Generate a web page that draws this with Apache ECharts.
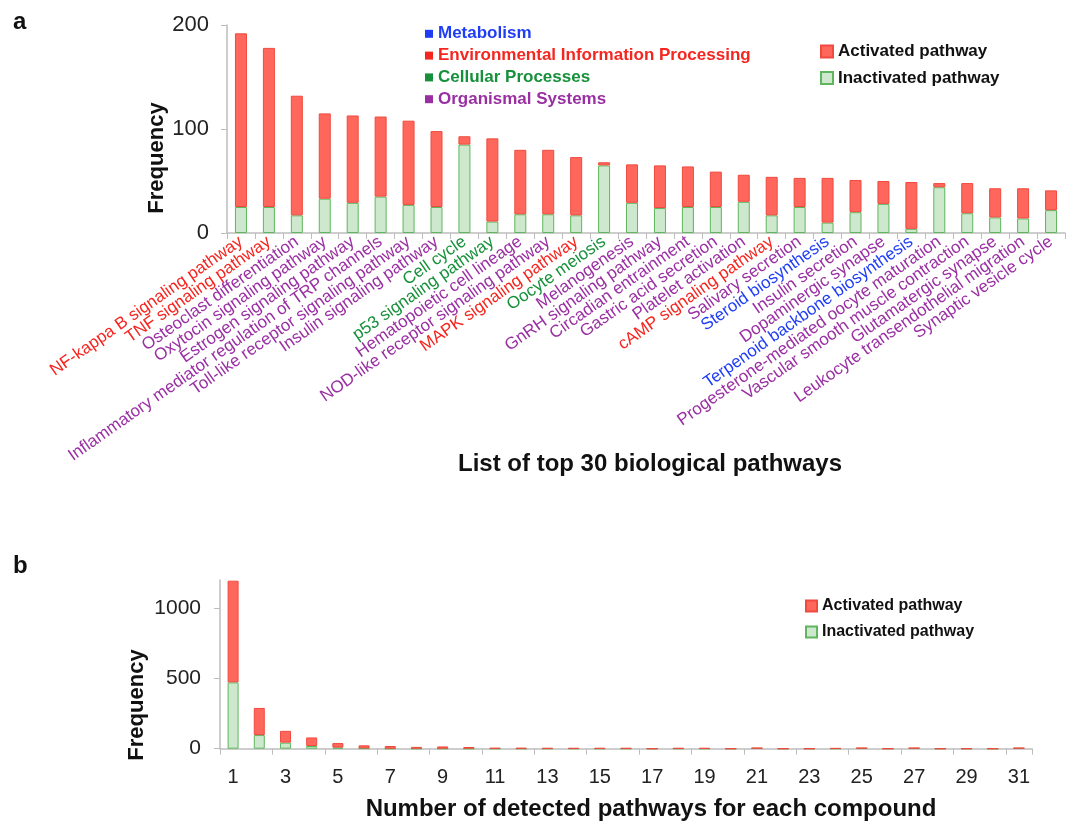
<!DOCTYPE html>
<html>
<head>
<meta charset="utf-8">
<script src="https://cdn.jsdelivr.net/npm/echarts@6/dist/echarts.min.js"></script>
<style>
  html, body { margin: 0; padding: 0; background: #fff; }
  #main { width: 1072px; height: 823px; }
</style>
</head>
<body>
<div id="main"></div>
<script>
// top 30 pathways (panel a)
var pathways = [
  'NF-kappa B signaling pathway', 'TNF signaling pathway', 'Osteoclast differentiation',
  'Oxytocin signaling pathway', 'Estrogen signaling pathway',
  'Inflammatory mediator regulation of TRP channels', 'Toll-like receptor signaling pathway',
  'Insulin signaling pathway', 'Cell cycle', 'p53 signaling pathway',
  'Hematopoietic cell lineage', 'NOD-like receptor signaling pathway', 'MAPK signaling pathway',
  'Oocyte meiosis', 'Melanogenesis', 'GnRH signaling pathway', 'Circadian entrainment',
  'Gastric acid secretion', 'Platelet activation', 'cAMP signaling pathway',
  'Salivary secretion', 'Steroid biosynthesis', 'Insulin secretion', 'Dopaminergic synapse',
  'Terpenoid backbone biosynthesis', 'Progesterone-mediated oocyte maturation',
  'Vascular smooth muscle contraction', 'Glutamatergic synapse',
  'Leukocyte transendothelial migration', 'Synaptic vesicle cycle'
];
// M = Metabolism, E = Environmental Information Processing, C = Cellular Processes, O = Organismal Systems
var pathwayGroup = ['E','E','O','O','O','O','O','O','C','C','O','O','E','C','O','O','O','O','O','E','O','M','O','O','M','O','O','O','O','O'];
var totalA    = [192,178,132,115,113,112,108,98,93,91,80,80,73,68,66,65,64,59,56,54,53,53,51,50,49,48,48,43,43,41];
var inactiveA = [25,25,17,33,29,35,27,25,85,11,18,18,17,65,29,24,25,25,30,17,25,10,20,28,4,44,19,15,14,22];

// panel b: number of detected pathways per compound
var counts    = ['1','2','3','4','5','6','7','8','9','10','11','12','13','14','15','16','17','18','19','20','21','22','23','24','25','26','27','28','29','30','31'];
var totalB    = [1195,290,127,80,40,24,19,13,16,12,6,6,5,5,5,5,0,5,5,0,4,0,0,4,4,0,4,0,0,0,4];
var inactiveB = [472,97,43,19,8,2,0,0,0,0,0,0,0,0,0,0,0,0,0,0,4,0,0,0,4,0,4,0,0,0,4];

var groupNames = ['Metabolism', 'Environmental Information Processing', 'Cellular Processes', 'Organismal Systems'];
var groupColor = { M: '#1f3df5', E: '#f5251f', C: '#16903a', O: '#9a2fa3' };

var activeA = totalA.map(function (t, i) { return t - inactiveA[i]; });
var activeB = totalB.map(function (t, i) { return t - inactiveB[i]; });

var FONT = 'Arial, "Liberation Sans", Helvetica, sans-serif';
var redStyle = { color: '#ff675c', borderColor: '#f04a3e', borderWidth: 1 };
var greenStyle = { color: '#cde8cd', borderColor: '#5fb65f', borderWidth: 1 };
var axisGray = '#bdbdbd';

var chart = echarts.init(document.getElementById('main'), null, { renderer: 'canvas' });

// group colour key, drawn as graphics
var groupGraphics = [];
['M', 'E', 'C', 'O'].forEach(function (g, i) {
  var y = 33.8 + i * 21.8;
  groupGraphics.push({ type: 'rect', x: 425, y: y - 4, shape: { width: 8, height: 8 }, style: { fill: groupColor[g] } });
  groupGraphics.push({ type: 'text', x: 438, y: y, style: { text: groupNames[i], fill: groupColor[g], font: 'bold 17px ' + FONT, verticalAlign: 'middle' } });
});

chart.setOption({
  animation: false,
  textStyle: { fontFamily: FONT },
  legend: [
    {
      data: ['Activated pathway', 'Inactivated pathway'], orient: 'vertical', left: 820, top: 43,
      padding: 0, icon: 'rect', itemWidth: 12, itemHeight: 12, itemGap: 9.5, selectedMode: false,
      textStyle: { fontSize: 17, fontWeight: 'bold', color: '#111' }
    },
    {
      data: ['Activated pathway', 'Inactivated pathway'], orient: 'vertical', left: 805, top: 598,
      padding: 0, icon: 'rect', itemWidth: 11, itemHeight: 11, itemGap: 10, selectedMode: false,
      textStyle: { fontSize: 16, fontWeight: 'bold', color: '#111' }
    }
  ],
  grid: [
    { left: 227, top: 25, width: 838, height: 208 },
    { left: 220, top: 580, width: 812, height: 168.7 }
  ],
  xAxis: [
    {
      type: 'category', gridIndex: 0,
      data: pathways.map(function (p, i) {
        return { value: p, textStyle: { color: groupColor[pathwayGroup[i]] } };
      }),
      axisLine: { lineStyle: { color: axisGray, width: 1.5 } },
      axisTick: { show: true, length: 6, lineStyle: { color: axisGray } },
      axisLabel: { interval: 0, rotate: 35, fontSize: 17, margin: 7 }
    },
    {
      type: 'category', gridIndex: 1, data: counts,
      axisLine: { lineStyle: { color: axisGray, width: 1.5 } },
      axisTick: { show: true, length: 6, lineStyle: { color: axisGray } },
      axisLabel: { interval: 1, fontSize: 20, color: '#222', margin: 19 }
    }
  ],
  yAxis: [
    {
      type: 'value', gridIndex: 0, min: 0, max: 200, interval: 100,
      axisLine: { show: true, lineStyle: { color: axisGray, width: 1.5 } },
      axisTick: { show: true, length: 6, lineStyle: { color: axisGray } },
      splitLine: { show: false },
      axisLabel: { fontSize: 22, color: '#222', margin: 18 }
    },
    {
      type: 'value', gridIndex: 1, min: 0, max: 1200, interval: 500,
      axisLine: { show: true, lineStyle: { color: axisGray, width: 1.5 } },
      axisTick: { show: true, length: 6, lineStyle: { color: axisGray } },
      splitLine: { show: false },
      axisLabel: { fontSize: 21, color: '#222', margin: 19, showMaxLabel: false,
        formatter: function (v) { return String(v); } }
    }
  ],
  graphic: groupGraphics.concat([
    { type: 'text', x: 13, y: 10, style: { text: 'a', fill: '#111', font: 'bold 24px ' + FONT, verticalAlign: 'top' } },
    { type: 'text', x: 13, y: 554, style: { text: 'b', fill: '#111', font: 'bold 24px ' + FONT, verticalAlign: 'top' } },
    { type: 'text', x: 157, y: 158, rotation: Math.PI / 2, style: { text: 'Frequency', fill: '#111', font: 'bold 22px ' + FONT, align: 'center', verticalAlign: 'middle' } },
    { type: 'text', x: 137, y: 705, rotation: Math.PI / 2, style: { text: 'Frequency', fill: '#111', font: 'bold 22px ' + FONT, align: 'center', verticalAlign: 'middle' } },
    { type: 'text', x: 650, y: 464, style: { text: 'List of top 30 biological pathways', fill: '#111', font: 'bold 24px ' + FONT, align: 'center', verticalAlign: 'middle' } },
    { type: 'text', x: 651, y: 809, style: { text: 'Number of detected pathways for each compound', fill: '#111', font: 'bold 24px ' + FONT, align: 'center', verticalAlign: 'middle' } }
  ]),
  series: [
    { name: 'Inactivated pathway', type: 'bar', stack: 'a', xAxisIndex: 0, yAxisIndex: 0, barWidth: 12, itemStyle: greenStyle, data: inactiveA },
    { name: 'Activated pathway', type: 'bar', stack: 'a', xAxisIndex: 0, yAxisIndex: 0, barWidth: 12, itemStyle: redStyle, data: activeA },
    { name: 'Inactivated pathway', type: 'bar', stack: 'b', xAxisIndex: 1, yAxisIndex: 1, barWidth: 11, itemStyle: greenStyle, data: inactiveB },
    { name: 'Activated pathway', type: 'bar', stack: 'b', xAxisIndex: 1, yAxisIndex: 1, barWidth: 11, itemStyle: redStyle, data: activeB }
  ]
});
</script>
</body>
</html>
